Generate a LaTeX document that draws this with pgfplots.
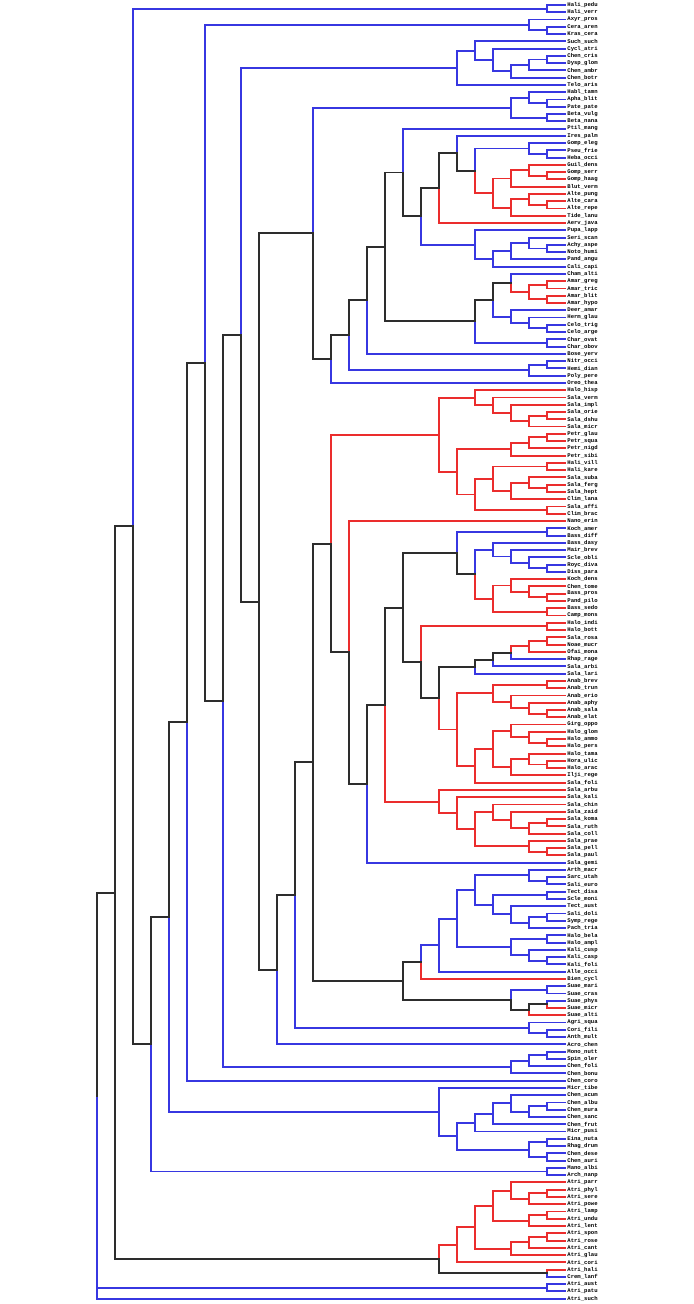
\documentclass[border=0pt]{standalone}
\usepackage{pgfplots}
\usepackage{pgfplotstable}
\pgfplotsset{compat=1.18}
\usepackage{fontspec}
\newfontfamily\labfont{Liberation Mono}
\definecolor{tblue}{RGB}{55,55,225}
\definecolor{tred}{RGB}{235,45,45}
\definecolor{tblack}{RGB}{45,45,45}
% columns: hn yn = node (height, leaf index); hp yp = its parent
\pgfplotstableread{
hn yn hp yp
0 0 1 0.5
0 1 1 0.5
0 2 2 2.75
0 3 1 3.5
0 4 1 3.5
0 5 5 6.28125
0 6 4 7.5625
0 7 1 7.5
0 8 1 7.5
0 9 2 8.25
0 10 3 9.125
0 11 6 8.640625
0 12 2 12.75
0 13 1 13.5
0 14 1 13.5
0 15 1 15.5
0 16 1 15.5
0 17 9 23.04297
0 18 6 20.40625
0 19 2 19.75
0 20 1 20.5
0 21 1 20.5
0 31 5 32.96875
0 32 2 32.75
0 33 1 33.5
0 34 1 33.5
0 35 3 33.875
0 36 4 34.9375
0 37 3 38.25
0 42 3 42.875
0 43 2 43.75
0 44 1 44.5
0 45 1 44.5
0 46 1 46.5
0 47 1 46.5
0 48 11 40.64355
0 49 1 49.5
0 50 1 49.5
0 51 2 50.25
0 52 13 48.72339
0 72 1 72.5
0 73 1 72.5
0 74 4 74.9375
0 75 3 75.875
0 76 2 76.75
0 77 1 77.5
0 78 1 77.5
0 90 3 89.125
0 91 4 90.0625
0 92 5 91.03125
0 118 11 107.12988
0 119 2 119.75
0 120 1 120.5
0 121 1 120.5
0 122 1 122.5
0 123 1 122.5
0 124 3 125.125
0 125 1 125.5
0 126 1 125.5
0 127 2 126.25
0 128 1 128.5
0 129 1 128.5
0 130 2 130.75
0 131 1 131.5
0 132 1 131.5
0 133 7 129.35156
0 135 1 135.5
0 136 1 135.5
0 137 1 137.5
0 140 2 140.75
0 141 1 141.5
0 142 1 141.5
0 143 16 132.73428
0 144 1 144.5
0 145 1 144.5
0 146 2 145.25
0 147 3 146.125
0 148 21 98.62312
0 149 7 152.32031
0 150 3 151.125
0 151 1 151.5
0 152 1 151.5
0 153 2 152.25
0 154 4 152.5625
0 155 5 153.78125
0 156 1 156.5
0 157 1 156.5
0 158 1 158.5
0 159 1 158.5
0 160 1 160.5
0 161 1 160.5
0 175 1 174.5
0 176 1 176.5
0 177 1 176.5
0 178 26 150.07
1 0.5 24 71.74293
1 3.5 2 2.75
2 2.75 20 49.24623
1 7.5 2 8.25
2 8.25 3 9.125
3 9.125 4 7.5625
4 7.5625 5 6.28125
5 6.28125 6 8.640625
6 8.640625 18 45.35993
1 13.5 2 12.75
2 12.75 3 14.125
1 15.5 3 14.125
3 14.125 14 31.42419
1 20.5 2 19.75
2 19.75 5 22.8125
1 33.5 2 32.75
2 32.75 3 33.875
3 33.875 4 34.9375
4 34.9375 5 32.96875
5 32.96875 8 29.08594
1 44.5 2 43.75
2 43.75 3 42.875
3 42.875 4 40.5625
1 46.5 5 43.53125
1 49.5 2 50.25
2 50.25 12 45.44678
1 72.5 6 75.40625
1 77.5 2 76.75
2 76.75 3 75.875
3 75.875 4 74.9375
4 74.9375 5 78.3125
1 120.5 2 119.75
2 119.75 5 121.78125
1 122.5 4 123.8125
1 125.5 2 126.25
2 126.25 3 125.125
3 125.125 4 123.8125
4 123.8125 5 121.78125
5 121.78125 6 125.70313
1 128.5 3 129.625
1 131.5 2 130.75
2 130.75 3 129.625
3 129.625 6 125.70313
6 125.70313 7 129.35156
7 129.35156 8 131.67578
1 135.5 3 136.875
1 141.5 2 140.75
2 140.75 15 122.46857
1 144.5 2 145.25
2 145.25 3 146.125
3 146.125 19 95.74247
1 151.5 2 152.25
2 152.25 3 151.125
3 151.125 4 152.5625
4 152.5625 5 153.78125
5 153.78125 6 155.64063
1 156.5 2 157.5
1 158.5 2 157.5
2 157.5 6 155.64063
6 155.64063 7 152.32031
7 152.32031 22 125.47171
1 160.5 23 142.98586
1 176.5 26 150.07
}\blueT
\pgfplotstableread{
hn yn hp yp
0 22 2 22.75
0 23 1 23.5
0 24 1 23.5
0 25 3 23.875
0 26 2 26.75
0 27 1 27.5
0 28 1 27.5
0 29 3 27.875
0 30 7 25.20313
0 38 1 38.5
0 39 1 38.5
0 40 1 40.5
0 41 1 40.5
0 53 5 54.03125
0 54 4 55.0625
0 55 3 56.125
0 56 1 56.5
0 57 1 56.5
0 58 2 57.25
0 59 1 59.5
0 60 1 59.5
0 61 2 60.25
0 62 3 61.125
0 63 1 63.5
0 64 1 63.5
0 65 2 65.75
0 66 1 66.5
0 67 1 66.5
0 68 3 66.875
0 69 1 69.5
0 70 1 69.5
0 71 12 89.06494
0 79 3 79.875
0 80 2 80.75
0 81 1 81.5
0 82 1 81.5
0 83 1 83.5
0 84 1 83.5
0 85 1 85.5
0 86 1 85.5
0 87 1 87.5
0 88 1 87.5
0 89 2 88.25
0 93 1 93.5
0 94 1 93.5
0 95 3 95.875
0 96 2 96.75
0 97 1 97.5
0 98 1 97.5
0 99 3 99.875
0 100 2 100.75
0 101 1 101.5
0 102 1 101.5
0 103 2 103.75
0 104 1 104.5
0 105 1 104.5
0 106 3 104.875
0 107 5 104.6875
0 108 7 109.60156
0 109 6 111.20313
0 110 4 111.0625
0 111 3 112.125
0 112 1 112.5
0 113 1 112.5
0 114 2 113.25
0 115 2 115.75
0 116 1 116.5
0 117 1 116.5
0 134 8 131.67578
0 138 1 137.5
0 139 2 138.25
0 162 3 163.125
0 163 1 163.5
0 164 1 163.5
0 165 2 164.25
0 166 1 166.5
0 167 1 166.5
0 168 2 167.25
0 169 1 169.5
0 170 1 169.5
0 171 2 170.25
0 172 3 171.125
0 173 6 170.57813
0 174 1 174.5
1 23.5 2 22.75
2 22.75 3 23.875
3 23.875 4 25.875
1 27.5 2 26.75
2 26.75 3 27.875
3 27.875 4 25.875
4 25.875 5 22.8125
1 38.5 2 39.5
1 40.5 2 39.5
2 39.5 3 38.25
1 56.5 2 57.25
2 57.25 3 56.125
3 56.125 4 55.0625
4 55.0625 5 54.03125
5 54.03125 7 59.13281
1 59.5 2 60.25
2 60.25 3 61.125
3 61.125 6 64.23438
1 63.5 4 65.1875
1 66.5 2 65.75
2 65.75 3 66.875
3 66.875 4 65.1875
4 65.1875 5 67.34375
1 69.5 5 67.34375
5 67.34375 6 64.23438
6 64.23438 7 59.13281
7 59.13281 13 74.09888
1 81.5 2 80.75
2 80.75 3 79.875
3 79.875 4 81.6875
1 83.5 4 81.6875
4 81.6875 5 78.3125
1 85.5 8 90.42969
1 87.5 2 88.25
2 88.25 3 89.125
1 93.5 4 94.6875
1 97.5 2 96.75
2 96.75 3 95.875
3 95.875 4 94.6875
4 94.6875 6 99.6875
1 101.5 2 100.75
2 100.75 3 99.875
3 99.875 4 102.375
1 104.5 2 103.75
2 103.75 3 104.875
3 104.875 4 102.375
4 102.375 5 104.6875
5 104.6875 6 99.6875
6 99.6875 7 95.35938
1 112.5 2 113.25
2 113.25 3 112.125
3 112.125 4 111.0625
4 111.0625 5 113.40625
1 116.5 2 115.75
2 115.75 5 113.40625
5 113.40625 6 111.20313
6 111.20313 7 109.60156
7 109.60156 10 96.25977
1 163.5 2 164.25
2 164.25 3 163.125
3 163.125 4 165.1875
1 166.5 2 167.25
2 167.25 4 165.1875
4 165.1875 5 168.15625
1 169.5 2 170.25
2 170.25 3 171.125
3 171.125 5 168.15625
5 168.15625 6 170.57813
6 170.57813 7 172.53906
}\redT
\pgfplotstableread{
hn yn hp yp
1 137.5 2 138.25
2 138.25 3 136.875
3 136.875 9 134.27539
8 131.67578 9 134.27539
9 134.27539 14 104.18713
5 22.8125 6 20.40625
6 20.40625 7 25.20313
7 25.20313 8 29.08594
8 29.08594 9 23.04297
9 23.04297 10 33.28711
3 38.25 4 40.5625
4 40.5625 5 43.53125
5 43.53125 10 33.28711
10 33.28711 11 40.64355
11 40.64355 12 45.44678
12 45.44678 13 48.72339
13 48.72339 14 31.42419
14 31.42419 17 82.07924
5 78.3125 6 75.40625
6 75.40625 9 82.91797
3 89.125 4 90.0625
4 90.0625 5 91.03125
5 91.03125 7 95.35938
7 95.35938 8 90.42969
8 90.42969 9 82.91797
9 82.91797 10 96.25977
10 96.25977 11 107.12988
11 107.12988 12 89.06494
12 89.06494 13 74.09888
13 74.09888 14 104.18713
14 104.18713 15 122.46857
15 122.46857 16 132.73428
16 132.73428 17 82.07924
17 82.07924 18 45.35993
18 45.35993 19 95.74247
19 95.74247 20 49.24623
20 49.24623 21 98.62312
21 98.62312 22 125.47171
22 125.47171 23 142.98586
23 142.98586 24 71.74293
1 174.5 7 172.53906
7 172.53906 25 122.141
24 71.74293 25 122.141
25 122.141 26 150.07
}\blackT
\begin{document}
\begin{tikzpicture}
\begin{axis}[
  scale only axis, width=347pt, height=652pt,
  x dir=reverse, y dir=reverse,
  xmin=-7.1667, xmax=31.3889, ymin=-0.688, ymax=178.73,
  axis line style={draw=none}, tick style={draw=none},
  major tick length=0pt,
  xtick=\empty,
  ytick={0,...,178},
  yticklabel pos=right,
  yticklabel style={font=\labfont\bfseries\fontsize{2.8}{3}\selectfont, anchor=west, inner sep=0pt, xshift=-63.5pt},
  yticklabels={Hali\_pedu,Hali\_verr,Axyr\_pros,Cera\_aren,Kras\_cera,Such\_such,Cycl\_atri,Chen\_cris,Dysp\_glom,Chen\_ambr,Chen\_botr,Telo\_aris,Habl\_tamn,Apha\_blit,Pate\_pate,Beta\_vulg,Beta\_nana,Ptil\_mang,Ires\_palm,Gomp\_eleg,Pseu\_frie,Heba\_occi,Guil\_dens,Gomp\_serr,Gomp\_haag,Blut\_verm,Alte\_pung,Alte\_cara,Alte\_repe,Tide\_lanu,Aerv\_java,Pupa\_lapp,Seri\_scan,Achy\_aspe,Noto\_humi,Pand\_angu,Cali\_capi,Cham\_alti,Amar\_greg,Amar\_tric,Amar\_blit,Amar\_hypo,Deer\_amar,Herm\_glau,Celo\_trig,Celo\_arge,Char\_ovat,Char\_obov,Bose\_yerv,Nitr\_occi,Hemi\_dian,Poly\_pere,Oreo\_thea,Halo\_hisp,Sala\_verm,Sala\_impl,Sala\_orie,Sala\_dshu,Sala\_micr,Petr\_glau,Petr\_squa,Petr\_nigd,Petr\_sibi,Hali\_vill,Hali\_kare,Sala\_suba,Sala\_ferg,Sala\_hept,Clim\_lana,Sala\_affi,Clim\_brac,Nano\_erin,Koch\_amer,Bass\_diff,Bass\_dasy,Mair\_brev,Scle\_obli,Royc\_diva,Diss\_para,Koch\_dens,Chen\_tome,Bass\_pros,Pand\_pilo,Bass\_sedo,Camp\_mons,Halo\_indi,Halo\_bott,Sala\_rosa,Noae\_mucr,Ofai\_mona,Rhap\_rage,Sala\_arbi,Sala\_lari,Anab\_brev,Anab\_trun,Anab\_erio,Anab\_aphy,Anab\_sala,Anab\_elat,Girg\_oppo,Halo\_glom,Halo\_ammo,Halo\_pers,Halo\_tama,Hora\_ulic,Halo\_arac,Ilji\_rege,Sala\_foli,Sala\_arbu,Sala\_kali,Sala\_chin,Sala\_zaid,Sala\_koma,Sala\_ruth,Sala\_coll,Sala\_prae,Sala\_pell,Sala\_paul,Sala\_gemi,Arth\_macr,Sarc\_utah,Sali\_euro,Tect\_disa,Scle\_moni,Tect\_aust,Sali\_doli,Symp\_rege,Pach\_tria,Halo\_bela,Halo\_ampl,Kali\_cusp,Kali\_casp,Kali\_foli,Alle\_occi,Bien\_cycl,Suae\_mari,Suae\_cras,Suae\_phys,Suae\_micr,Suae\_alti,Agri\_squa,Cori\_fili,Anth\_mult,Acro\_chen,Mono\_nutt,Spin\_oler,Chen\_foli,Chen\_bonu,Chen\_coro,Micr\_tibe,Chen\_acum,Chen\_albu,Chen\_mura,Chen\_sanc,Chen\_frut,Micr\_pusi,Eina\_nuta,Rhag\_drum,Chen\_dese,Chen\_auri,Mano\_albi,Arch\_nanp,Atri\_parr,Atri\_phyl,Atri\_sere,Atri\_powe,Atri\_lamp,Atri\_undu,Atri\_lent,Atri\_spon,Atri\_rose,Atri\_cant,Atri\_glau,Atri\_cori,Atri\_hali,Crem\_lanf,Atri\_aust,Atri\_patu,Atri\_such},
]
\addplot[draw=tblue, line width=0.95pt, line cap=rect, -, quiver={u=0, v=\thisrow{yn}-\thisrow{yp}}] table[x=hp, y=yp] {\blueT};
\addplot[draw=tblue, line width=0.95pt, line cap=rect, -, quiver={u=\thisrow{hn}-\thisrow{hp}, v=0}] table[x=hp, y=yn] {\blueT};
\addplot[draw=tred, line width=0.95pt, line cap=rect, -, quiver={u=0, v=\thisrow{yn}-\thisrow{yp}}] table[x=hp, y=yp] {\redT};
\addplot[draw=tred, line width=0.95pt, line cap=rect, -, quiver={u=\thisrow{hn}-\thisrow{hp}, v=0}] table[x=hp, y=yn] {\redT};
\addplot[draw=tblack, line width=0.95pt, line cap=rect, -, quiver={u=0, v=\thisrow{yn}-\thisrow{yp}}] table[x=hp, y=yp] {\blackT};
\addplot[draw=tblack, line width=0.95pt, line cap=rect, -, quiver={u=\thisrow{hn}-\thisrow{hp}, v=0}] table[x=hp, y=yn] {\blackT};
\end{axis}
\end{tikzpicture}
\end{document}
